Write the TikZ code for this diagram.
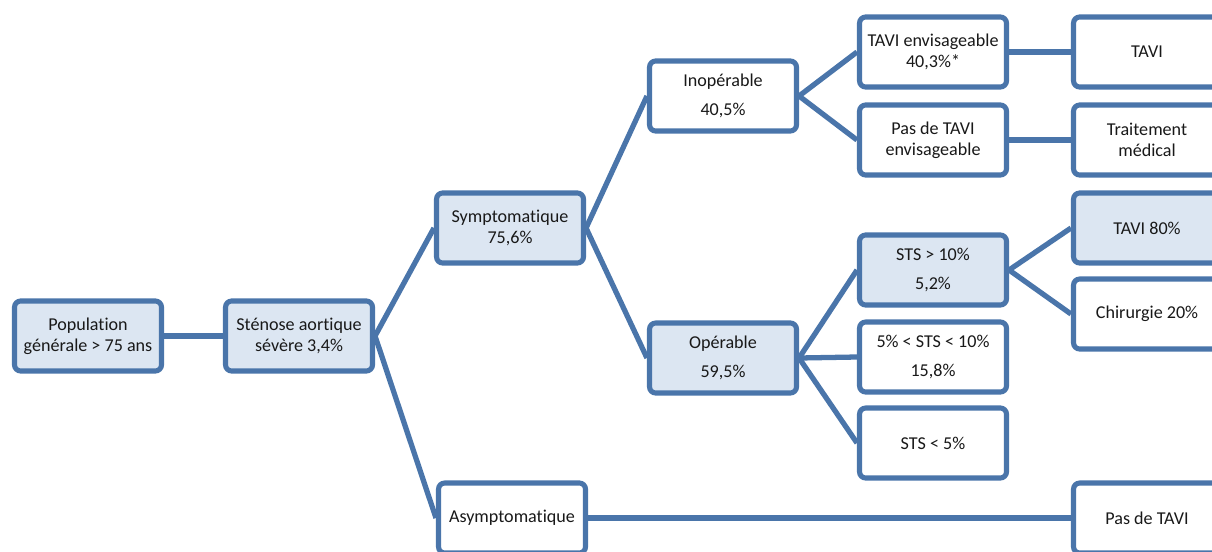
\documentclass[tikz,border=0pt]{standalone}
\usepackage{fontspec}
\setmainfont{Carlito}[Ligatures={NoCommon}]
\usetikzlibrary{positioning}
\definecolor{bordbleu}{RGB}{74,117,170}
\definecolor{fondbleu}{RGB}{220,230,242}

\begin{document}
\begin{tikzpicture}[x=0.02cm, y=-0.02cm,
    cadre/.style={draw=bordbleu, line width=2.9pt, rounded corners=3.5pt, fill=white,
        minimum width=2.94cm, minimum height=1.40cm, inner sep=0pt, align=center,
        text=black!90, font=\fontsize{10.3}{12}\selectfont},
    cadrep/.style={cadre, fill=fondbleu},
    lien/.style={draw=bordbleu, line width=3pt}]
        \path[use as bounding box, clip] (0,0) rectangle (1212,551);

        \node[cadrep] (pop) at (88,336) {Population\\générale > 75 ans};
        \node[cadrep] (sten) at (299,336) {Sténose aortique\\sévère 3,4\%};
        \node[cadrep] (sym) at (510,228) {Symptomatique\\75,6\%};
        \node[cadre] (asym) at (512,518) {Asymptomatique};
        \node[cadre] (inop) at (723,96) {Inopérable\\[4.4pt]40,5\%};
        \node[cadrep] (op) at (723,358) {Opérable\\[4.4pt]59,5\%};
        \node[cadre] (tenv) at (933,52) {TAVI envisageable\\40,3\%*};
        \node[cadre] (ptenv) at (933,140) {Pas de TAVI\\envisageable};
        \node[cadrep] (sts1) at (933,270) {STS > 10\%\\[4.4pt]5,2\%};
        \node[cadre] (sts2) at (933,357) {5\% < STS < 10\%\\[4.4pt]15,8\%};
        \node[cadre] (sts3) at (933,443) {STS < 5\%};
        \node[cadre] (tavi) at (1147,52) {TAVI};
        \node[cadre] (trt) at (1147,140) {Traitement\\médical};
        \node[cadrep] (tavi80) at (1147,228) {TAVI 80\%};
        \node[cadre] (chir) at (1147,314) {Chirurgie 20\%};
        \node[cadre] (ptavi) at (1147,518) {Pas de TAVI};

        \draw[lien] (pop.east) -- (sten.west);
        \draw[lien] (sten.east) -- (sym.west);
        \draw[lien] (sten.east) -- (asym.west);
        \draw[lien] (sym.east) -- (inop.west);
        \draw[lien] (sym.east) -- (op.west);
        \draw[lien] (inop.east) -- (tenv.west);
        \draw[lien] (inop.east) -- (ptenv.west);
        \draw[lien] (tenv.east) -- (tavi.west);
        \draw[lien] (ptenv.east) -- (trt.west);
        \draw[lien] (op.east) -- (sts1.west);
        \draw[lien] (op.east) -- (sts2.west);
        \draw[lien] (op.east) -- (sts3.west);
        \draw[lien] (sts1.east) -- (tavi80.west);
        \draw[lien] (sts1.east) -- (chir.west);
        \draw[lien] (asym.east) -- (ptavi.west);
        \end{tikzpicture}
\end{document}
